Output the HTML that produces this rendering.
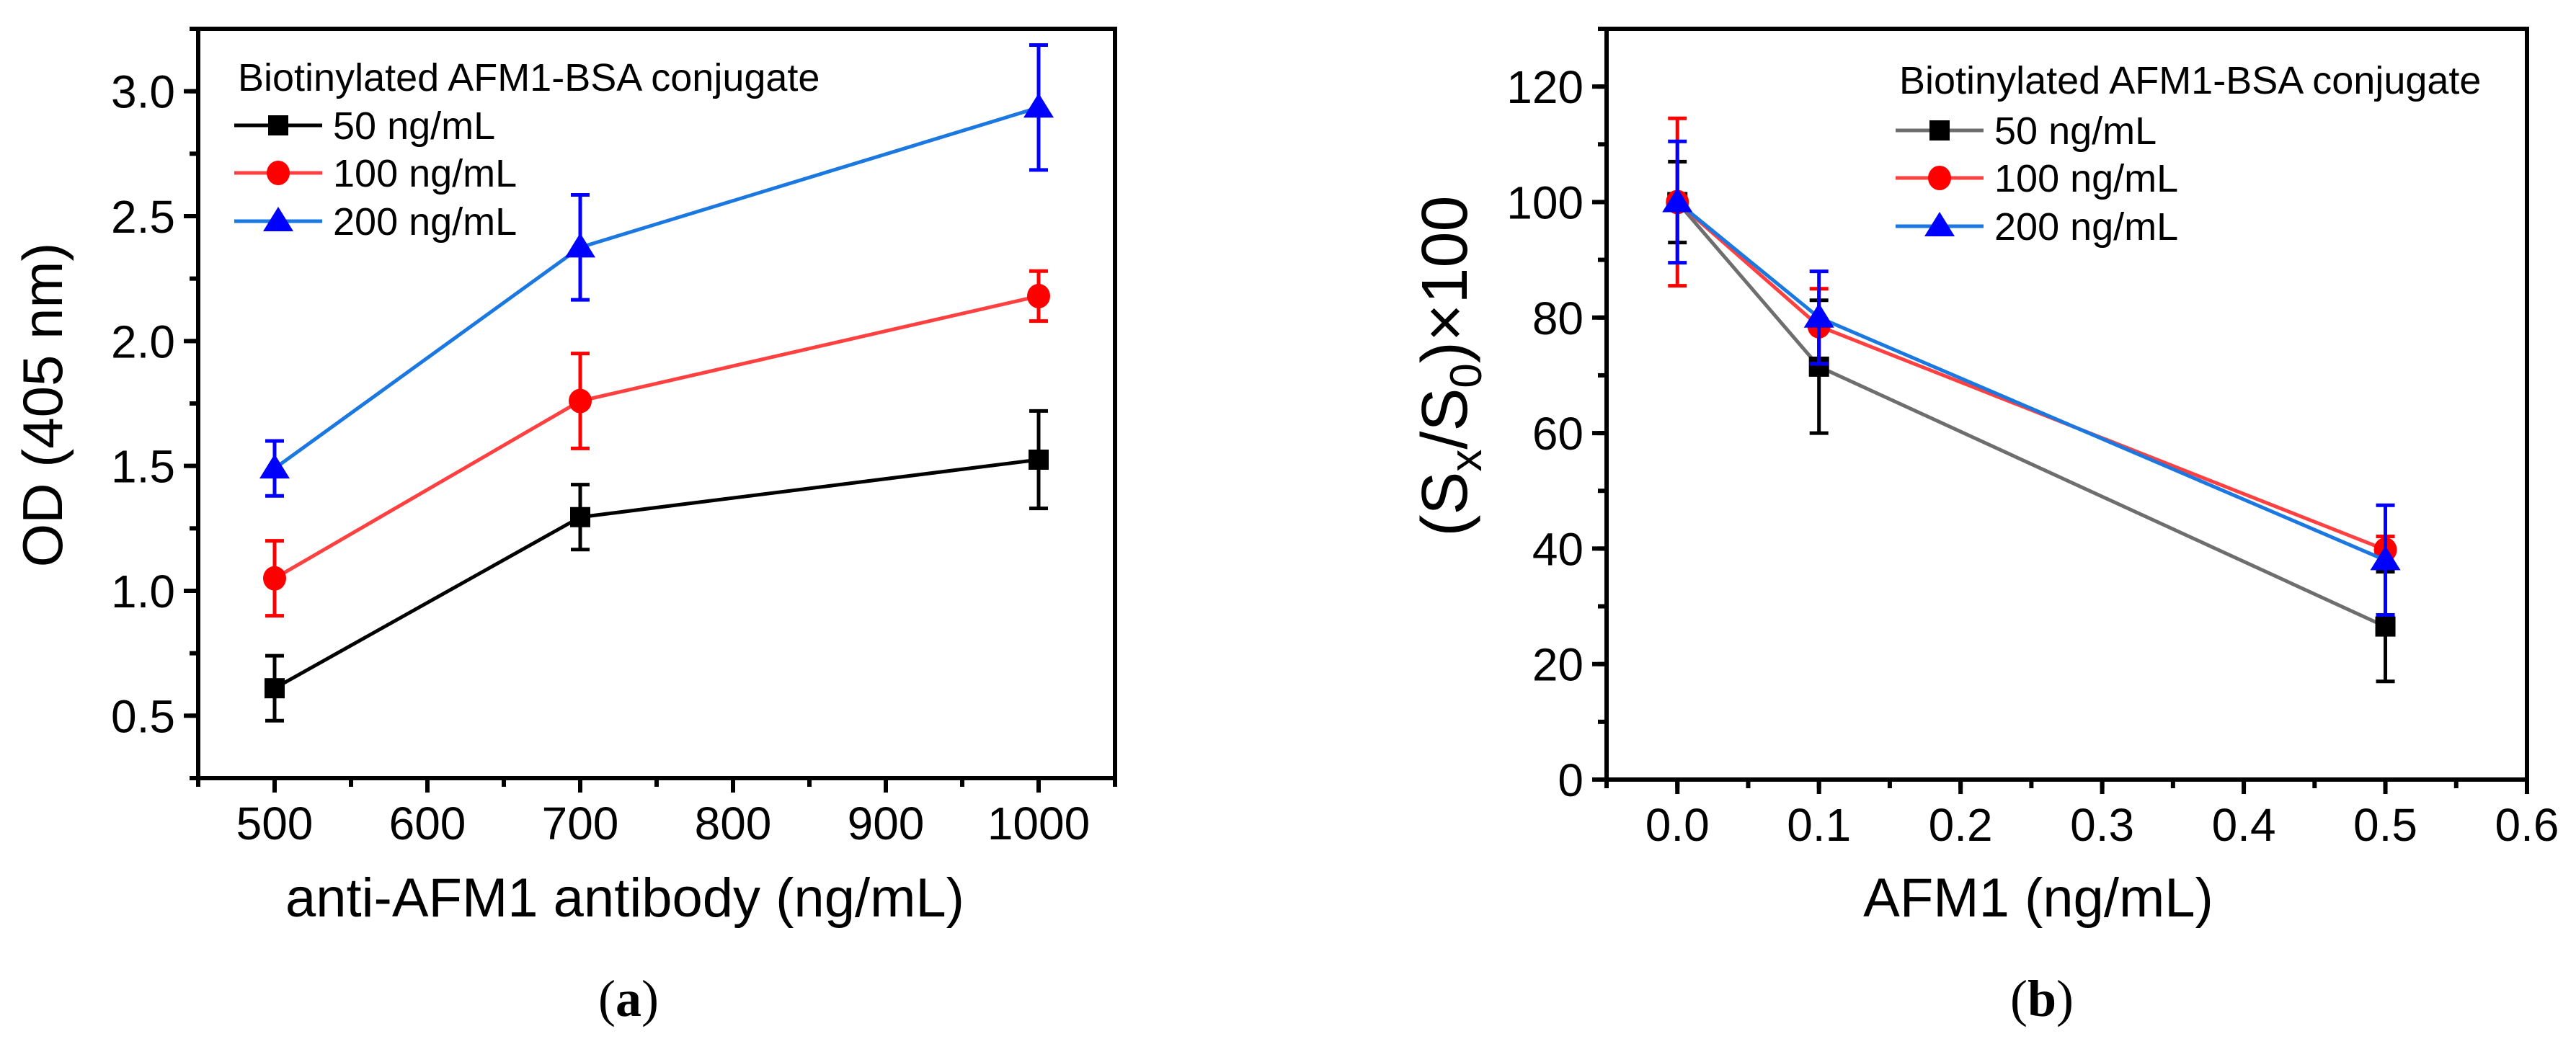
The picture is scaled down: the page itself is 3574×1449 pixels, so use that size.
<!DOCTYPE html>
<html><head><meta charset="utf-8"><style>
html,body{margin:0;padding:0;background:#fff;}
svg{display:block;font-family:"Liberation Sans",Arial,sans-serif;}
</style></head><body>
<svg id="fig" width="3574" height="1449" viewBox="0 0 3574 1449"></svg>
<script>
// ---- Panel (a) data ----
const aX = [500, 700, 1000];
const a50 = [0.61, 1.295, 1.525];
const a50err = [0.13, 0.13, 0.195];
const a100 = [1.05, 1.76, 2.18];
const a100err = [0.15, 0.19, 0.10];
const a200 = [1.49, 2.375, 2.935];
const a200err = [0.11, 0.21, 0.25];
const aXTicks = [500, 600, 700, 800, 900, 1000];
const aYTicks = [0.5, 1.0, 1.5, 2.0, 2.5, 3.0];
const aYTickLabels = ["0.5", "1.0", "1.5", "2.0", "2.5", "3.0"];
// ---- Panel (b) data ----
const bX = [0.0, 0.1, 0.5];
const b50 = [100, 71.5, 26.5];
const b50err = [7, 11.5, 9.5];
const b100 = [100, 78.5, 39.8];
const b100err = [14.5, 6.5, 2.3];
const b200 = [100, 80, 38];
const b200err = [10.5, 8, 9.5];
const bXTicks = [0.0, 0.1, 0.2, 0.3, 0.4, 0.5, 0.6];
const bXTickLabels = ["0.0", "0.1", "0.2", "0.3", "0.4", "0.5", "0.6"];
const bYTicks = [0, 20, 40, 60, 80, 100, 120];
const seriesNames = ["50 ng/mL", "100 ng/mL", "200 ng/mL"];

const NS = "http://www.w3.org/2000/svg";
const svg = document.getElementById("fig");
function mk(tag, attrs, parent) {
  const e = document.createElementNS(NS, tag);
  for (const k in attrs) e.setAttribute(k, attrs[k]);
  (parent || svg).appendChild(e);
  return e;
}
function lin(d0, d1, r0, r1) { return v => r0 + (v - d0) / (d1 - d0) * (r1 - r0); }

function marker(g, type, cx, cy, color) {
  let m;
  if (type === "sq") m = mk("rect", {x: cx - 14, y: cy - 14, width: 28, height: 28, fill: color}, g);
  else if (type === "ci") m = mk("ellipse", {cx: cx, cy: cy, rx: 16, ry: 17, fill: color}, g);
  else m = mk("polygon", {points: `${cx},${cy - 20} ${cx + 21},${cy + 14} ${cx - 21},${cy + 14}`, fill: color}, g);
  
  
}

function panel(cfg) {
  const g = mk("g", {});
  
  
  const X = lin(cfg.xmin, cfg.xmax, cfg.L, cfg.R);
  const Y = lin(cfg.ymin, cfg.ymax, cfg.B, cfg.T);
  cfg.series.forEach(s => {
    const sg = mk("g", {}, g);
    
    
    const pts = cfg.xs.map((x, i) => X(x) + "," + Y(s.v[i])).join(" ");
    const pl = mk("polyline", {points: pts, fill: "none", stroke: s.line, "stroke-width": 5}, sg);
    
    
    cfg.xs.forEach((x, i) => {
      const cx = X(x), y1 = Y(s.v[i] + s.e[i]), y2 = Y(s.v[i] - s.e[i]);
      const eb = mk("path", {d: `M${cx},${y1}V${y2}M${cx - 13},${y1}H${cx + 13}M${cx - 13},${y2}H${cx + 13}`, stroke: s.mk, "stroke-width": 5, fill: "none"}, sg);
      
      
      marker(sg, s.type, cx, Y(s.v[i]), s.mk);
    });
  });
  const fr = mk("rect", {x: cfg.L, y: cfg.T, width: cfg.R - cfg.L, height: cfg.B - cfg.T, fill: "none", stroke: "#000", "stroke-width": 6}, g);
  
  
  const xa = mk("g", {}, g);
  
  
  cfg.xticks.forEach((t, i) => {
    const x = X(t);
    mk("line", {x1: x, x2: x, y1: cfg.B, y2: cfg.B + 20, stroke: "#000", "stroke-width": 6}, xa);
    const tx = mk("text", {x: x, y: cfg.B + 85, "font-size": 64, "text-anchor": "middle"}, xa);
    tx.textContent = cfg.xlabels[i];
    
    
  });
  for (let t = cfg.xminor0; t <= cfg.xmax + 1e-9; t += cfg.xminorStep) {
    const x = X(t);
    mk("line", {x1: x, x2: x, y1: cfg.B, y2: cfg.B + 12, stroke: "#000", "stroke-width": 6}, xa);
  }
  const ya = mk("g", {}, g);
  
  
  cfg.yticks.forEach((t, i) => {
    const y = Y(t);
    mk("line", {x1: cfg.L - 20, x2: cfg.L, y1: y, y2: y, stroke: "#000", "stroke-width": 6}, ya);
    const tx = mk("text", {x: cfg.L - 32, y: y + 23, "font-size": 64, "text-anchor": "end"}, ya);
    tx.textContent = cfg.ylabels[i];
    
    
  });
  for (let t = cfg.yminor0; t <= cfg.ymax + 1e-9; t += cfg.yminorStep) {
    const y = Y(t);
    mk("line", {x1: cfg.L - 12, x2: cfg.L, y1: y, y2: y, stroke: "#000", "stroke-width": 6}, ya);
  }
  const lg = mk("g", {}, g);
  
  
  const lt = mk("text", {x: cfg.lg.x + 5, y: cfg.lg.ty, "font-size": 54}, lg);
  lt.textContent = "Biotinylated AFM1-BSA conjugate";
  
  
  cfg.series.forEach((s, i) => {
    const ly = cfg.lg.ly[i];
    const le = mk("g", {}, lg);
    
    
    mk("line", {x1: cfg.lg.x, x2: cfg.lg.x + 122, y1: ly, y2: ly, stroke: s.line, "stroke-width": 5}, le);
    marker(le, s.type, cfg.lg.x + 61, ly, s.mk);
    const t = mk("text", {x: cfg.lg.x + 137, y: ly + 19, "font-size": 54}, le);
    t.textContent = s.label;
  });
  return {g, X, Y};
}

const pa = panel({
  name: "chart-a", L: 275, R: 1547, T: 40, B: 1080,
  xmin: 450, xmax: 1050, ymin: 0.25, ymax: 3.25, xs: aX,
  xticks: aXTicks, xlabels: aXTicks.map(String), xminor0: 450, xminorStep: 50,
  yticks: aYTicks, ylabels: aYTickLabels, yminor0: 0.25, yminorStep: 0.25,
  series: [
    {label: seriesNames[0], v: a50, e: a50err, line: "#000000", mk: "#000000", type: "sq"},
    {label: seriesNames[1], v: a100, e: a100err, line: "#ff4040", mk: "#ff0000", type: "ci"},
    {label: seriesNames[2], v: a200, e: a200err, line: "#1a78e0", mk: "#0000ff", type: "tr"}
  ],
  lg: {x: 325, ty: 126, ly: [174, 240, 307]}
});
const pb = panel({
  name: "chart-b", L: 2229, R: 3506, T: 40, B: 1082,
  xmin: -0.05, xmax: 0.6, ymin: 0, ymax: 130, xs: bX,
  xticks: bXTicks, xlabels: bXTickLabels, xminor0: -0.05, xminorStep: 0.05,
  yticks: bYTicks, ylabels: bYTicks.map(String), yminor0: 10, yminorStep: 10,
  series: [
    {label: seriesNames[0], v: b50, e: b50err, line: "#6e6e6e", mk: "#000000", type: "sq"},
    {label: seriesNames[1], v: b100, e: b100err, line: "#ff4040", mk: "#ff0000", type: "ci"},
    {label: seriesNames[2], v: b200, e: b200err, line: "#1a78e0", mk: "#0000ff", type: "tr"}
  ],
  lg: {x: 2630, ty: 130, ly: [181, 247, 314]}
});
</script>
<svg width="3574" height="1449" style="position:absolute;left:0;top:0;font-family:'Liberation Sans',Arial,sans-serif">
  <text x="867" y="1272" font-size="76" text-anchor="middle">anti-AFM1 antibody (ng/mL)</text>
  <text transform="translate(86,562) rotate(-90)" font-size="78" text-anchor="middle">OD (405 nm)</text>
  <text x="2828" y="1272" font-size="76" text-anchor="middle">AFM1 (ng/mL)</text>
  <text transform="translate(2035,508) rotate(-90)" font-size="90" text-anchor="middle">(S<tspan font-size="62" dy="20">x</tspan><tspan dy="-20">/S</tspan><tspan font-size="62" dy="20">0</tspan><tspan dy="-20">)×100</tspan></text>
  <text x="872" y="1410" font-size="72" text-anchor="middle" font-family="Liberation Serif,serif">(<tspan font-weight="bold">a</tspan>)</text>
  <text x="2833" y="1410" font-size="72" text-anchor="middle" font-family="Liberation Serif,serif">(<tspan font-weight="bold">b</tspan>)</text>
</svg>
</body></html>
